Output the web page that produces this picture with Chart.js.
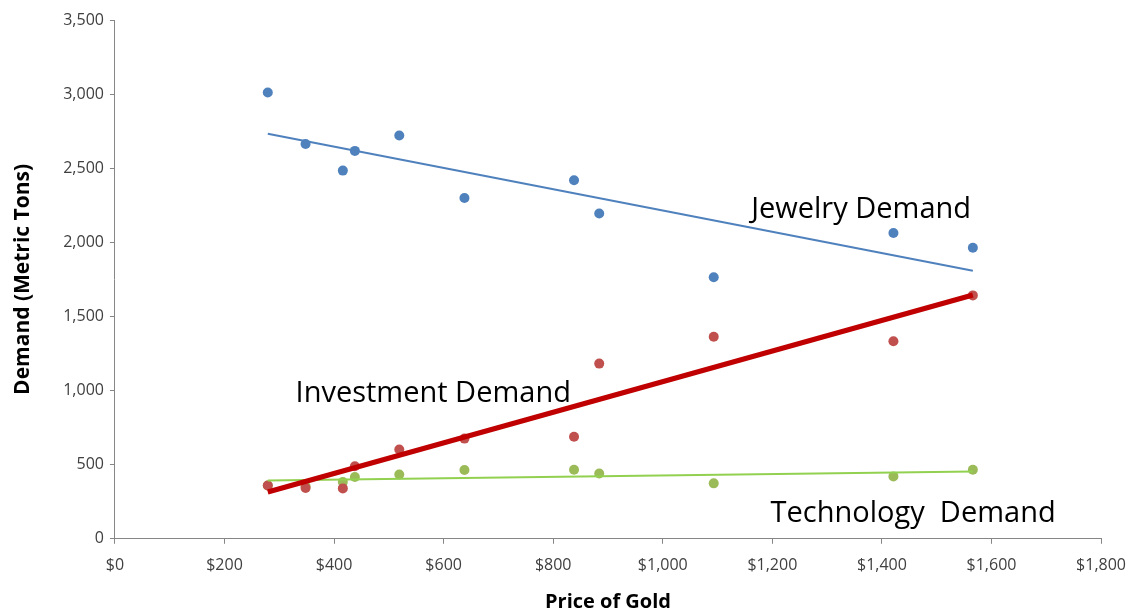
<!DOCTYPE html>
<html>
<head>
<meta charset="utf-8">
<script src="https://cdn.jsdelivr.net/npm/chart.js@4.4.1/dist/chart.umd.min.js"></script>
<style>
  html, body { margin: 0; padding: 0; background: #fff; }
  #wrap { width: 1138px; height: 616px; }
</style>
</head>
<body>
<div id="wrap"><canvas id="gold"></canvas></div>
<script>
// price of gold ($/oz) vs demand (metric tons)
const goldPrice = [279, 348, 416, 438, 519, 638, 838, 884, 1093, 1421, 1566];
const jewelry = [3011, 2664, 2484, 2617, 2721, 2299, 2419, 2194, 1764, 2063, 1964];
const investment = [360, 343, 340, 489, 603, 676, 689, 1182, 1363, 1333, 1642];
const technology = [360, 354, 383, 417, 434, 464, 466, 441, 374, 421, 466];

const xTicks = [0, 200, 400, 600, 800, 1000, 1200, 1400, 1600, 1800];
const yTicks = [0, 500, 1000, 1500, 2000, 2500, 3000, 3500];

const labels = [
  { text: 'Jewelry Demand', x: 1362, y: 2223 },
  { text: 'Investment Demand', x: 581, y: 980 },
  { text: 'Technology  Demand', x: 1457, y: 169 }
];

const pts = ys => goldPrice.map((x, i) => ({ x: x, y: ys[i] }));

// excel style linear trendline, drawn from first to last price
function trend(ys) {
  const n = goldPrice.length;
  const mx = goldPrice.reduce((a, b) => a + b, 0) / n;
  const my = ys.reduce((a, b) => a + b, 0) / n;
  let sxy = 0, sxx = 0;
  goldPrice.forEach((x, i) => { sxy += (x - mx) * (ys[i] - my); sxx += (x - mx) * (x - mx); });
  const b = sxy / sxx, a = my - b * mx;
  const x0 = Math.min(...goldPrice), x1 = Math.max(...goldPrice);
  return [{ x: x0, y: a + b * x0 }, { x: x1, y: a + b * x1 }];
}

const textLabels = {
  id: 'textLabels',
  afterDatasetsDraw(chart) {
    const { ctx, scales } = chart;
    ctx.save();
    ctx.font = '29px "Open Sans"';
    ctx.fillStyle = '#000';
    ctx.textAlign = 'center';
    ctx.textBaseline = 'middle';
    labels.forEach(l => ctx.fillText(l.text, scales.x.getPixelForValue(l.x), scales.y.getPixelForValue(l.y)));
    ctx.restore();
  }
};

const axisGrid = {
  display: true,
  drawOnChartArea: false,
  drawTicks: true,
  tickLength: 5,
  color: '#868686'
};

new Chart(document.getElementById('gold'), {
  type: 'scatter',
  data: {
    datasets: [
      { type: 'line', data: trend(investment), borderColor: '#C00000', borderWidth: 5, pointRadius: 0, order: 0 },
      { type: 'line', data: trend(jewelry), borderColor: '#4F81BD', borderWidth: 2, pointRadius: 0, order: 1 },
      { type: 'line', data: trend(technology), borderColor: '#92D050', borderWidth: 2, pointRadius: 0, order: 1 },
      { label: 'Jewelry', data: pts(jewelry), backgroundColor: '#4F81BD', borderWidth: 0, pointRadius: 5, order: 2 },
      { label: 'Investment', data: pts(investment), backgroundColor: '#C0504D', borderWidth: 0, pointRadius: 5, order: 2 },
      { label: 'Technology', data: pts(technology), backgroundColor: '#9BBB59', borderWidth: 0, pointRadius: 5, order: 3 }
    ]
  },
  options: {
    responsive: true,
    maintainAspectRatio: false,
    animation: false,
    layout: { padding: { top: 20, right: 33, left: 10, bottom: 2 } },
    plugins: { legend: { display: false }, tooltip: { enabled: false } },
    scales: {
      x: {
        type: 'linear',
        min: 0, max: 1800,
        afterBuildTicks: ax => { ax.ticks = xTicks.map(v => ({ value: v })); },
        grid: axisGrid,
        border: { color: '#868686', width: 1 },
        ticks: {
          color: '#404040',
          font: { family: 'Open Sans', size: 16 },
          padding: 12,
          maxRotation: 0,
          callback: v => '$' + v.toLocaleString('en-US')
        },
        title: { display: true, text: 'Price of Gold', color: '#000', font: { family: 'Open Sans', size: 20, weight: 'bold' }, padding: { top: 3, bottom: 0 } }
      },
      y: {
        min: 0, max: 3500,
        afterBuildTicks: ax => { ax.ticks = yTicks.map(v => ({ value: v })); },
        grid: axisGrid,
        border: { color: '#868686', width: 1 },
        ticks: {
          color: '#404040',
          font: { family: 'Open Sans', size: 16 },
          padding: 6,
          callback: v => v.toLocaleString('en-US')
        },
        title: { display: true, text: 'Demand (Metric Tons)', color: '#000', font: { family: 'Open Sans', size: 21, weight: 'bold' }, padding: { top: 0, bottom: 22 } }
      }
    }
  },
  plugins: [textLabels]
});
</script>
</body>
</html>
